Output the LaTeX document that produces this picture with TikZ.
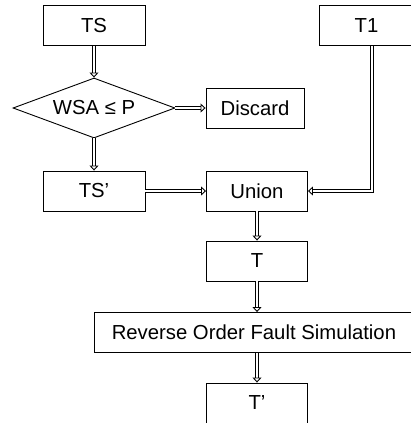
\documentclass[tikz,border=0pt]{standalone}
\usepackage{fontspec}
\setmainfont{Liberation Sans}
\usetikzlibrary{arrows.meta,shapes.geometric}
\begin{document}
\begin{tikzpicture}[x=1pt,y=-1pt,
  box/.style={draw,line width=0.9pt,minimum height=40pt,inner sep=0pt,font=\fontsize{20.3}{23}\selectfont},
  darr/.style={double,double distance=2pt,line width=1pt,-{Triangle[open,width=9pt,length=5pt,line width=0.9pt]}}]
\useasboundingbox (0,0) rectangle (411,423);
\node[box,minimum width=102pt] (ts) at (94,25.5) {TS};
\node[box,minimum width=94pt,anchor=west] (t1) at (319,25.5) {T1};
\node[draw,line width=0.9pt,diamond,aspect=2.7,minimum width=162pt,minimum height=60pt,inner sep=0pt,font=\fontsize{20.3}{23}\selectfont] (d) at (94,108) {WSA ≤ P};
\node[box,minimum width=98pt] (dis) at (255,108) {Discard};
\node[box,minimum width=102pt] (tsp) at (94,191) {TS’};
\node[box,minimum width=101pt] (un) at (257,191) {Union};
\node[box,minimum width=101pt] (t) at (257,261) {T};
\node[box,minimum width=319pt,anchor=west] (rofs) at (94,332.5) {Reverse Order Fault Simulation};
\node[box,minimum width=101pt] (tp) at (257,403) {T’};
\draw[darr] (ts.south) -- (d.north);
\draw[darr] (d.east) -- (dis.west);
\draw[darr] (d.south) -- (tsp.north);
\draw[darr] (tsp.east) -- (un.west);
\draw[darr] (t1.south -| 372,0) |- (un.east);
\draw[darr] (un.south) -- (t.north);
\draw[darr] (t.south) -- (t.south |- rofs.north);
\draw[darr] (rofs.south -| tp.north) -- (tp.north);
\end{tikzpicture}
\end{document}
